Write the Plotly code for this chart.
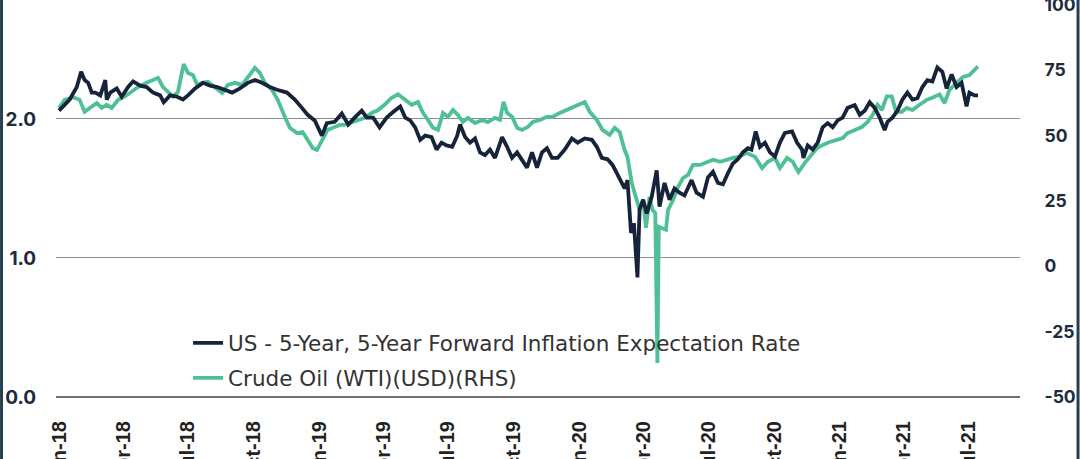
import pandas as pd
import plotly.graph_objects as go

# Data. Days are counted from 2018-01-01.
base_date = pd.Timestamp("2018-01-01")

inflation_days = [
    0, 15, 25, 31, 36, 41, 46, 51, 58, 65,
    67, 72, 81, 88, 97, 104, 114, 123, 132, 142,
    147, 156, 166, 174, 181, 191, 202, 212, 222, 233,
    243, 254, 265, 275, 285, 296, 306, 320, 331, 341,
    349, 359, 369, 376, 387, 397, 406, 415, 425, 432,
    441, 450, 460, 469, 479, 486, 493, 500, 507, 514,
    523, 530, 537, 544, 552, 559, 563, 570, 577, 584,
    591, 598, 605, 612, 622, 629, 636, 643, 650, 657,
    664, 671, 678, 685, 692, 700, 710, 720, 728, 738,
    748, 755, 762, 770, 777, 784, 794, 798, 803, 807,
    812, 815, 820, 825, 832, 839, 843, 850, 857, 864,
    871, 878, 888, 895, 904, 911, 918, 925, 932, 939,
    946, 953, 960, 967, 972, 978, 984, 991, 998, 1005,
    1012, 1019, 1029, 1036, 1043, 1045, 1051, 1058, 1065, 1072,
    1079, 1086, 1093, 1100, 1107, 1117, 1124, 1131, 1138, 1145,
    1152, 1159, 1163, 1170, 1177, 1184, 1191, 1198, 1205, 1212,
    1219, 1226, 1233, 1240, 1246, 1253, 1260, 1267, 1274, 1278,
    1285, 1290,
]
inflation_rate = [
    2.06, 2.14, 2.23, 2.34, 2.28, 2.26, 2.19, 2.19, 2.17, 2.28,
    2.14, 2.19, 2.22, 2.16, 2.23, 2.27, 2.24, 2.23, 2.19, 2.17,
    2.12, 2.17, 2.16, 2.14, 2.17, 2.22, 2.26, 2.24, 2.23, 2.21,
    2.19, 2.22, 2.26, 2.28, 2.26, 2.23, 2.21, 2.19, 2.14, 2.08,
    2.03, 1.99, 1.88, 1.97, 1.98, 2.04, 1.96, 2.01, 2.06, 2.01,
    2.01, 1.94, 2.01, 2.05, 2.09, 2.01, 1.99, 1.94, 1.85, 1.88,
    1.87, 1.78, 1.83, 1.81, 1.80, 1.88, 1.96, 1.87, 1.83, 1.86,
    1.76, 1.74, 1.78, 1.72, 1.87, 1.80, 1.72, 1.76, 1.71, 1.65,
    1.76, 1.65, 1.76, 1.79, 1.72, 1.72, 1.78, 1.86, 1.83, 1.86,
    1.85, 1.80, 1.72, 1.71, 1.67, 1.60, 1.50, 1.56, 1.18, 1.25,
    0.86, 1.35, 1.42, 1.32, 1.44, 1.63, 1.37, 1.54, 1.42, 1.50,
    1.47, 1.45, 1.56, 1.47, 1.44, 1.58, 1.62, 1.54, 1.53, 1.61,
    1.68, 1.71, 1.76, 1.79, 1.78, 1.91, 1.80, 1.83, 1.76, 1.73,
    1.83, 1.90, 1.91, 1.83, 1.78, 1.72, 1.81, 1.78, 1.83, 1.94,
    1.97, 1.94, 1.99, 2.01, 2.08, 2.10, 2.03, 2.06, 2.12, 2.08,
    2.01, 1.92, 1.98, 2.01, 2.06, 2.14, 2.19, 2.14, 2.15, 2.23,
    2.28, 2.27, 2.37, 2.34, 2.22, 2.32, 2.23, 2.26, 2.09, 2.19,
    2.17, 2.17,
]

oil_days = [
    0, 8, 20, 29, 36, 44, 53, 60, 67, 74,
    83, 93, 102, 111, 123, 132, 139, 146, 153, 160,
    167, 175, 181, 188, 194, 201, 209, 219, 229, 237,
    247, 257, 265, 275, 282, 289, 299, 307, 317, 324,
    334, 342, 349, 356, 362, 369, 377, 387, 394, 401,
    411, 420, 429, 439, 448, 457, 467, 476, 486, 495,
    504, 511, 518, 525, 532, 539, 546, 553, 560, 567,
    574, 584, 594, 602, 612, 619, 624, 629, 636, 643,
    650, 658, 665, 675, 685, 693, 703, 713, 721, 731,
    738, 745, 755, 763, 773, 780, 787, 794, 798, 804,
    808, 815, 820, 824, 829, 833, 837, 840, 842, 852,
    855, 862, 869, 876, 883, 890, 900, 909, 918, 928,
    937, 946, 956, 965, 977, 987, 995, 1005, 1012, 1022,
    1030, 1038, 1047, 1054, 1064, 1072, 1082, 1092, 1100, 1107,
    1117, 1127, 1135, 1142, 1149, 1155, 1162, 1169, 1175, 1183,
    1190, 1198, 1208, 1218, 1226, 1236, 1243, 1250, 1260, 1269,
    1278, 1285, 1290,
]
oil_price = [
    60.6, 63.7, 64.7, 63.7, 59.1, 60.6, 62.5, 60.6, 61.8, 60.6,
    63.7, 65.1, 67.0, 68.6, 70.2, 71.3, 72.1, 68.6, 66.7, 64.9,
    66.7, 77.4, 74.0, 73.2, 69.4, 70.2, 70.6, 68.6, 66.3, 69.4,
    70.2, 69.4, 72.5, 75.9, 74.0, 70.2, 67.5, 63.7, 57.2, 53.0,
    51.0, 51.4, 48.4, 45.3, 44.5, 48.4, 52.2, 53.3, 54.1, 54.1,
    55.2, 56.0, 56.8, 58.7, 59.8, 61.8, 64.5, 65.8, 63.7, 61.8,
    62.9, 58.7, 56.0, 53.0, 52.2, 58.7, 57.2, 59.8, 57.9, 55.2,
    56.8, 54.8, 56.0, 55.2, 56.8, 56.0, 62.9, 58.7, 57.2, 53.0,
    52.2, 53.3, 55.2, 56.0, 57.2, 57.2, 58.7, 59.8, 61.0, 61.8,
    62.9, 59.1, 56.0, 52.2, 50.3, 53.0, 51.4, 44.5, 41.8, 31.9,
    28.1, 21.6, 25.4, 14.7, 26.6, 21.6, 20.4, -37.0, 15.1, 14.0,
    21.6, 25.4, 30.4, 33.8, 35.0, 38.8, 38.8, 40.0, 40.8, 40.0,
    40.8, 41.5, 42.0, 43.4, 41.9, 37.6, 40.0, 41.5, 37.6, 41.5,
    40.0, 36.1, 39.6, 41.9, 45.3, 46.4, 47.6, 48.4, 49.1, 51.0,
    52.2, 53.3, 55.2, 57.9, 61.8, 59.8, 65.0, 65.0, 59.1, 59.1,
    60.6, 59.8, 61.8, 63.7, 64.5, 65.8, 62.5, 67.5, 70.2, 72.5,
    73.2, 75.1, 76.5,
]

# right axis ticks (hyphen minus as in the original)
oil_ticks = [-50, -25, 0, 25, 50, 75, 100]
oil_tick_text = ["-50", "-25", "0", "25", "50", "75", "100"]

NAVY = "#17233a"
GREEN = "#4fc095"
TEXT = "#1d2b3c"

inflation_dates = base_date + pd.to_timedelta(inflation_days, unit="D")
oil_dates = base_date + pd.to_timedelta(oil_days, unit="D")

fig = go.Figure()

# navy series sits on the overlaying (left) axis so it is drawn above the oil line
fig.add_trace(go.Scatter(
    x=inflation_dates, y=inflation_rate, yaxis="y2", mode="lines",
    name="US - 5-Year, 5-Year Forward Inflation Expectation Rate",
    legendgroup="a", line=dict(color=NAVY, width=3.8),
))
fig.add_trace(go.Scatter(
    x=oil_dates, y=oil_price, yaxis="y", mode="lines",
    name="Crude Oil (WTI)(USD)(RHS)",
    legendgroup="b", line=dict(color=GREEN, width=3.8),
))

tick_font = dict(family="Inter, Liberation Sans, Arial", size=19, color=TEXT, weight="bold")

fig.update_layout(
    template="none",
    width=1080, height=459,
    margin=dict(l=56, r=60, t=0, b=62),
    paper_bgcolor="white", plot_bgcolor="white",
    showlegend=True,
    legend=dict(
        x=0.137, y=0.188, xanchor="left", yanchor="top",
        traceorder="grouped", tracegroupgap=4,
        bgcolor="rgba(0,0,0,0)",
        font=dict(family="DejaVu Sans, Inter, Arial", size=21.5, color="#333333"),
    ),
    xaxis=dict(
        type="date",
        range=["2017-12-27 19:00", "2021-09-11"],
        tick0="2018-01-01", dtick="M3", tickformat="%b-%y",
        tickangle=-90, ticks="outside", ticklen=15, tickcolor="rgba(0,0,0,0)",
        tickfont=dict(family="Liberation Sans, Arial", size=20, color="#222222", weight="bold"),
        ticklabeloverflow="allow",
        showgrid=False, zeroline=False, showline=False, automargin=False,
    ),
    yaxis=dict(
        side="right", range=[-50, 101.9],
        tickmode="array", tickvals=oil_ticks, ticktext=oil_tick_text,
        showgrid=False, zeroline=False, showline=False,
        ticks="outside", ticklen=20, tickcolor="rgba(0,0,0,0)",
        tickfont=dict(tick_font, size=17.5), ticklabeloverflow="allow", automargin=False,
    ),
    yaxis2=dict(
        side="left", overlaying="y", range=[0, 2.856], dtick=1, tickformat=".1f",
        showgrid=True, gridcolor="#8c8c8c", gridwidth=1,
        zeroline=True, zerolinecolor="#707070", zerolinewidth=1.5,
        showline=False,
        ticks="outside", ticklen=15, tickcolor="rgba(0,0,0,0)",
        tickfont=tick_font, ticklabeloverflow="allow", automargin=False,
    ),
)

# thin frame lines at the left and right edges of the picture
for xp in (-0.0565, 1.0602):
    fig.add_shape(type="line", xref="paper", yref="paper",
                  x0=xp, x1=xp, y0=-0.2, y1=1.05,
                  line=dict(color="#27404e", width=3))

# drop the default page margin so the figure fills the window exactly
fig.write_html(
    "out.html",
    config={"displayModeBar": False},
    post_script="document.body.style.margin='0';document.body.style.overflow='hidden';",
)
